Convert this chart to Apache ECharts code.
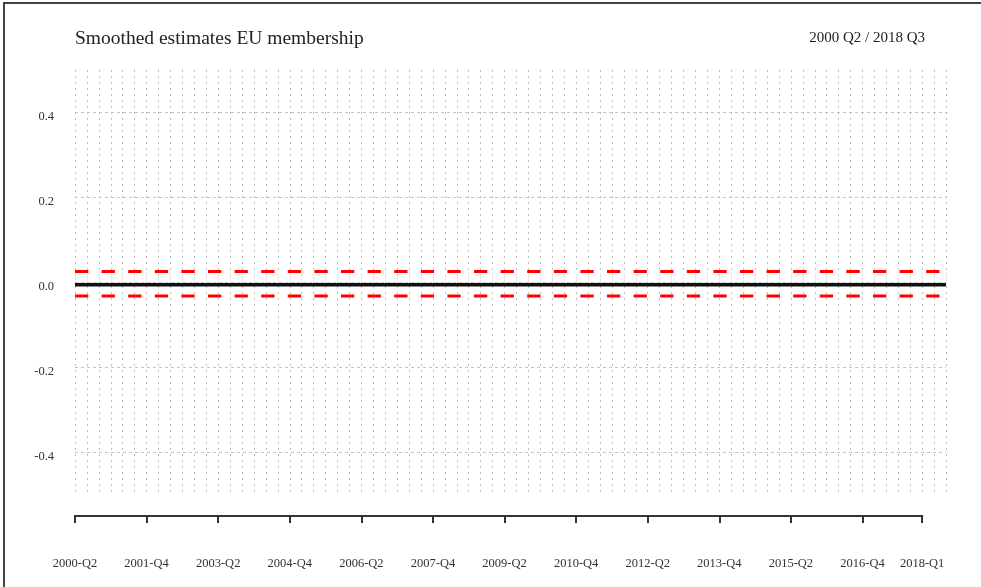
<!DOCTYPE html>
<html>
<head>
<meta charset="utf-8">
<title>Smoothed estimates EU membership</title>
<script src="https://cdn.jsdelivr.net/npm/echarts@6/dist/echarts.min.js"></script>
<style>
    html, body { margin: 0; padding: 0; background: #fff; }
    #wrap { position: relative; width: 981px; height: 587px; overflow: hidden; }
    #chart { width: 981px; height: 587px; }
    /* frame of the original plot device, only left and top edges are visible */
    #frame {
        position: absolute; left: 3px; top: 2px; width: 1200px; height: 800px;
        border-left: 2px solid #444; border-top: 2px solid #444;
        pointer-events: none;
    }
</style>
</head>
<body>
<div id="wrap">
    <div id="chart"></div>
    <div id="frame"></div>
</div>
<script>
// quarters 2000-Q2 .. 2018-Q3
const quarters = [
    '2000-Q2', '2000-Q3', '2000-Q4',
    '2001-Q1', '2001-Q2', '2001-Q3', '2001-Q4',
    '2002-Q1', '2002-Q2', '2002-Q3', '2002-Q4',
    '2003-Q1', '2003-Q2', '2003-Q3', '2003-Q4',
    '2004-Q1', '2004-Q2', '2004-Q3', '2004-Q4',
    '2005-Q1', '2005-Q2', '2005-Q3', '2005-Q4',
    '2006-Q1', '2006-Q2', '2006-Q3', '2006-Q4',
    '2007-Q1', '2007-Q2', '2007-Q3', '2007-Q4',
    '2008-Q1', '2008-Q2', '2008-Q3', '2008-Q4',
    '2009-Q1', '2009-Q2', '2009-Q3', '2009-Q4',
    '2010-Q1', '2010-Q2', '2010-Q3', '2010-Q4',
    '2011-Q1', '2011-Q2', '2011-Q3', '2011-Q4',
    '2012-Q1', '2012-Q2', '2012-Q3', '2012-Q4',
    '2013-Q1', '2013-Q2', '2013-Q3', '2013-Q4',
    '2014-Q1', '2014-Q2', '2014-Q3', '2014-Q4',
    '2015-Q1', '2015-Q2', '2015-Q3', '2015-Q4',
    '2016-Q1', '2016-Q2', '2016-Q3', '2016-Q4',
    '2017-Q1', '2017-Q2', '2017-Q3', '2017-Q4',
    '2018-Q1', '2018-Q2', '2018-Q3'
];

// quarters that get a tick and a label
const labelQuarters = [
    '2000-Q2', '2001-Q4', '2003-Q2', '2004-Q4', '2006-Q2', '2007-Q4', '2009-Q2',
    '2010-Q4', '2012-Q2', '2013-Q4', '2015-Q2', '2016-Q4', '2018-Q1'
];

// y tick values (horizontal grid lines)
const yTicks = [-0.4, -0.2, 0.0, 0.2, 0.4];

// smoothed estimate (black line)
const smoothed = [
    -0.005, -0.005, -0.005, -0.005, -0.005, -0.005, -0.005, -0.005, -0.005, -0.005,
    -0.005, -0.005, -0.005, -0.005, -0.005, -0.005, -0.005, -0.005, -0.005, -0.005,
    -0.005, -0.005, -0.005, -0.005, -0.005, -0.005, -0.005, -0.005, -0.005, -0.005,
    -0.005, -0.005, -0.005, -0.005, -0.005, -0.005, -0.005, -0.005, -0.005, -0.005,
    -0.005, -0.005, -0.005, -0.005, -0.005, -0.005, -0.005, -0.005, -0.005, -0.005,
    -0.005, -0.005, -0.005, -0.005, -0.005, -0.005, -0.005, -0.005, -0.005, -0.005,
    -0.005, -0.005, -0.005, -0.005, -0.005, -0.005, -0.005, -0.005, -0.005, -0.005,
    -0.005, -0.005, -0.005, -0.005
];

// upper confidence band (red dashed)
const upperBand = [
    0.026, 0.026, 0.026, 0.026, 0.026, 0.026, 0.026, 0.026, 0.026, 0.026,
    0.026, 0.026, 0.026, 0.026, 0.026, 0.026, 0.026, 0.026, 0.026, 0.026,
    0.026, 0.026, 0.026, 0.026, 0.026, 0.026, 0.026, 0.026, 0.026, 0.026,
    0.026, 0.026, 0.026, 0.026, 0.026, 0.026, 0.026, 0.026, 0.026, 0.026,
    0.026, 0.026, 0.026, 0.026, 0.026, 0.026, 0.026, 0.026, 0.026, 0.026,
    0.026, 0.026, 0.026, 0.026, 0.026, 0.026, 0.026, 0.026, 0.026, 0.026,
    0.026, 0.026, 0.026, 0.026, 0.026, 0.026, 0.026, 0.026, 0.026, 0.026,
    0.026, 0.026, 0.026, 0.026
];

// lower confidence band (red dashed)
const lowerBand = [
    -0.032, -0.032, -0.032, -0.032, -0.032, -0.032, -0.032, -0.032, -0.032, -0.032,
    -0.032, -0.032, -0.032, -0.032, -0.032, -0.032, -0.032, -0.032, -0.032, -0.032,
    -0.032, -0.032, -0.032, -0.032, -0.032, -0.032, -0.032, -0.032, -0.032, -0.032,
    -0.032, -0.032, -0.032, -0.032, -0.032, -0.032, -0.032, -0.032, -0.032, -0.032,
    -0.032, -0.032, -0.032, -0.032, -0.032, -0.032, -0.032, -0.032, -0.032, -0.032,
    -0.032, -0.032, -0.032, -0.032, -0.032, -0.032, -0.032, -0.032, -0.032, -0.032,
    -0.032, -0.032, -0.032, -0.032, -0.032, -0.032, -0.032, -0.032, -0.032, -0.032,
    -0.032, -0.032, -0.032, -0.032
];

const FONT = '"Liberation Serif", "DejaVu Serif", serif';
const AXIS_OFFSET = 21;

const chart = echarts.init(document.getElementById('chart'));

const isLabeled = (idx) => labelQuarters.includes(quarters[idx]);

const option = {
    animation: false,
    title: [
        {
            text: 'Smoothed estimates EU membership',
            left: 70, top: 24,
            textStyle: { fontFamily: FONT, fontSize: 19.5, fontWeight: 'normal', color: '#222' }
        },
        {
            text: '2000 Q2 / 2018 Q3',
            right: 51, top: 26,
            textStyle: { fontFamily: FONT, fontSize: 15, fontWeight: 'normal', color: '#222' }
        }
    ],
    grid: { left: 75, right: 35, top: 70, bottom: 92 },
    xAxis: [
        {
            // light axis: full width line, small inside ticks and the dotted grid
            type: 'category',
            data: quarters,
            boundaryGap: false,
            position: 'bottom',
            offset: AXIS_OFFSET,
            axisLine: { show: true, lineStyle: { color: '#e8e8e8', width: 2 } },
            axisTick: { show: true, inside: true, length: 8, interval: 0, lineStyle: { color: '#e8e8e8', width: 1 } },
            axisLabel: { show: false },
            splitLine: { show: true, interval: 0, lineStyle: { color: '#bdbdbd', width: 1, type: [2, 4] } }
        },
        {
            // dark ticks and labels every 6 quarters
            type: 'category',
            data: quarters,
            boundaryGap: false,
            position: 'bottom',
            offset: AXIS_OFFSET,
            axisLine: { show: false },
            axisTick: { show: true, length: 7, interval: isLabeled, lineStyle: { color: '#333', width: 2 } },
            axisLabel: {
                show: true, interval: isLabeled, margin: 41,
                fontFamily: FONT, fontSize: 12.5, color: '#333'
            },
            splitLine: { show: false }
        }
    ],
    yAxis: {
        type: 'value',
        min: -0.5,
        max: 0.5,
        interval: 0.1,
        axisLine: { show: false },
        axisTick: { show: false },
        splitLine: { show: false },
        axisLabel: {
            margin: 21,
            verticalAlign: 'top',
            lineHeight: 8,
            fontFamily: FONT, fontSize: 12.5, color: '#333',
            formatter: (v) => {
                const k = Math.round(v * 10);
                if (k % 2 !== 0) return '';
                return Math.abs(v) < 1e-9 ? '0.0' : v.toFixed(1);
            }
        }
    },
    series: [
        {
            // helper: horizontal dashed grid lines at the y ticks
            name: 'grid',
            type: 'line',
            data: [],
            silent: true,
            z: 1,
            markLine: {
                silent: true,
                symbol: 'none',
                label: { show: false },
                lineStyle: { color: '#c4c4c4', width: 1, type: [3, 3] },
                data: yTicks.map(v => ({ yAxis: v }))
            }
        },
        {
            name: 'upper',
            type: 'line',
            data: upperBand,
            symbol: 'none',
            z: 3,
            lineStyle: { color: '#ff0000', width: 3, type: [13.3, 13.3] }
        },
        {
            name: 'lower',
            type: 'line',
            data: lowerBand,
            symbol: 'none',
            z: 3,
            lineStyle: { color: '#ff0000', width: 3, type: [13.3, 13.3] }
        },
        {
            name: 'smoothed',
            type: 'line',
            data: smoothed,
            symbol: 'none',
            z: 4,
            lineStyle: { color: '#111', width: 3.5 }
        }
    ]
};

chart.setOption(option);

// dark axis line only from the first to the last labelled tick
const x0 = chart.convertToPixel({ xAxisIndex: 1 }, labelQuarters[0]);
const x1 = chart.convertToPixel({ xAxisIndex: 1 }, labelQuarters[labelQuarters.length - 1]);
const yBase = chart.convertToPixel({ yAxisIndex: 0 }, -0.5) + AXIS_OFFSET;
chart.setOption({
    graphic: [{
        type: 'line',
        silent: true,
        z: 10,
        shape: { x1: x0 - 1, y1: yBase, x2: x1 + 1, y2: yBase },
        style: { stroke: '#333', lineWidth: 2 }
    }]
});
</script>
</body>
</html>
